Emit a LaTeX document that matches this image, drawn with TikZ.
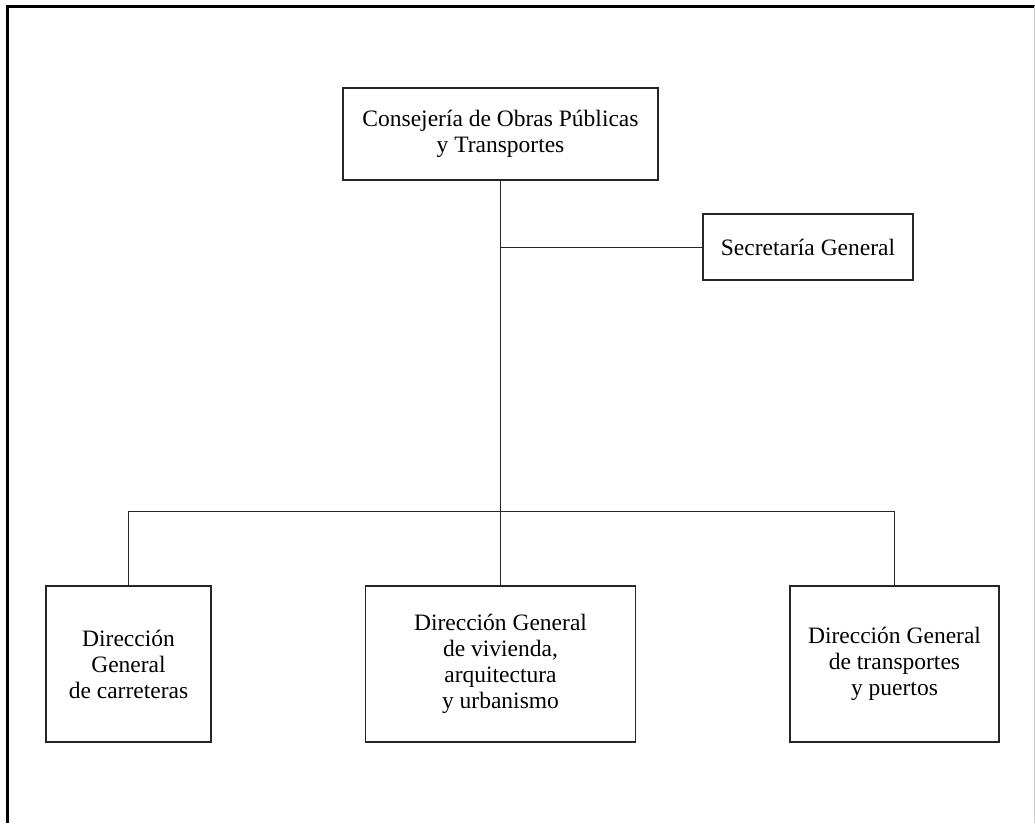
\documentclass[tikz,border=0pt]{standalone}
\usepackage{fontspec}
\setmainfont{Liberation Serif}
\begin{document}
\begin{tikzpicture}[x=1pt,y=-1pt,
  box/.style={draw=black!85,line width=1.2pt,rectangle,align=center,inner sep=0pt,
    font=\fontsize{23.5}{26}\selectfont},
  conn/.style={draw=black!85,line width=1pt}]
\useasboundingbox (0,0) rectangle (1035,823);
\draw[line width=3pt] (7,823) -- (7,6) -- (1035,6);
\draw[black!20,line width=0.8pt] (1034,6) -- (1034,823);
\node[box,minimum width=315pt,minimum height=92pt] (top) at (500.5,134) {Consejería de Obras Públicas\\y Transportes};
\node[box,minimum width=210pt,minimum height=66pt] (sec) at (808,247) {Secretaría General};
\node[box,minimum width=165pt,minimum height=156pt] (left) at (128.5,664) {Dirección\\General\\de carreteras};
\node[box,minimum width=270pt,minimum height=156pt] (mid) at (500.5,664) {Dirección General\\de vivienda,\\arquitectura\\y urbanismo};
\node[box,minimum width=209pt,minimum height=156pt] (right) at (894.5,664) {Dirección General\\de transportes\\y puertos};
\coordinate (bar) at (500.5,511);
\draw[conn] (top.south) -- (mid.north);
\draw[conn] (top.south |- sec.west) -- (sec.west);
\draw[conn] (left.north) -- (left.north |- bar) -- (right.north |- bar) -- (right.north);
\end{tikzpicture}
\end{document}
